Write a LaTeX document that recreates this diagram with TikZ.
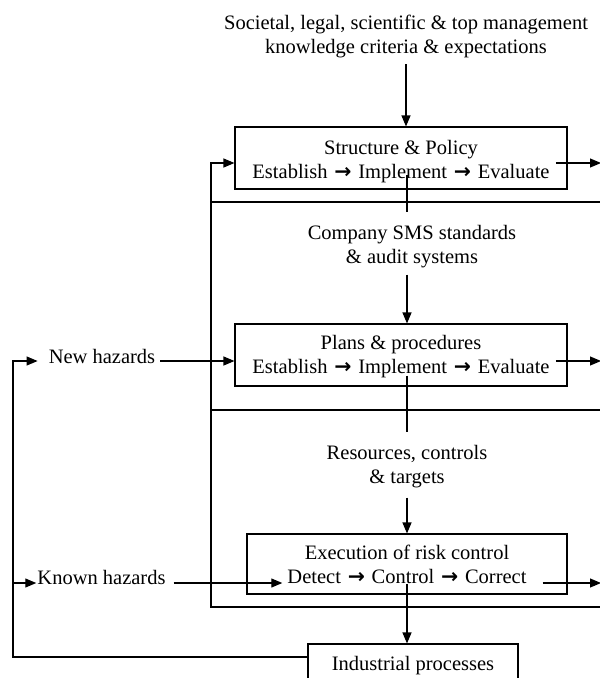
\documentclass[tikz,border=0pt]{standalone}
\usepackage{fontspec}
\setmainfont{Liberation Serif}
\newfontfamily\arrowglyph{DejaVu Sans}
\usetikzlibrary{arrows.meta}
% arrow between the steps of a stage
\newcommand\nextstep{\hspace{0.33em}{\arrowglyph\bfseries →}\hspace{0.33em}}

\begin{document}
\begin{tikzpicture}[x=1pt,y=-1pt,
  ln/.style={line width=1.1pt},
  arr/.style={ln,-{Triangle[length=11pt,width=9pt]}},
  label text/.style={font=\fontsize{20.5}{24}\selectfont,inner sep=0pt,align=center},
  stage/.style={draw,line width=1.1pt,inner sep=0pt,minimum height=62pt}]

\useasboundingbox (0,0) rectangle (600,678);
\clip (0,0) rectangle (600,678);

% stage boxes
\node[stage,minimum width=332pt] (b1) at (401,158) {};
\node[stage,minimum width=332pt] (b2) at (401,355) {};
\node[stage,minimum width=320pt,minimum height=60pt] (b3) at (407,564) {};
\node[stage,label text,minimum width=210pt,minimum height=44pt] (ip) at (413,666) {Industrial processes};

% texts
\node[label text] (n0) at (406,36.7) {Societal, legal, scientific \& top management\\knowledge criteria \& expectations};
\node[label text] (t1) at (401,162) {Structure \& Policy\\Establish\nextstep Implement\nextstep Evaluate};
\node[label text] (n1) at (412,247) {Company SMS standards\\\& audit systems};
\node[label text] (t2) at (401,357) {Plans \& procedures\\Establish\nextstep Implement\nextstep Evaluate};
\node[label text] (n2) at (407,467) {Resources, controls\\\& targets};
\node[label text] (t3) at (407,564) {Execution of risk control\\Detect\nextstep Control\nextstep Correct};
\node[label text] (nh) at (102,356) {New hazards};
\node[label text] (kh) at (101.5,577) {Known hazards};

% reference lines
\coordinate (spine) at (407,0);
\coordinate (right) at (601,0);
\coordinate (frameL) at (211,0);
\coordinate (loopL) at (13,0);
\coordinate (r1) at (0,163);
\coordinate (r2) at (0,361);
\coordinate (r3) at (0,583);
\coordinate (h1) at (0,202);
\coordinate (h2) at (0,410);
\coordinate (h3) at (0,607);
\coordinate (hbot) at (0,657);

% frame around the lower levels
\draw[ln] (frameL |- h1) -- ([xshift=6pt]right |- h1);
\draw[ln] (frameL |- h2) -- ([xshift=6pt]right |- h2);
\draw[arr] ([xshift=6pt]right |- h3) -- (frameL |- h3) -- (frameL |- r1) -- (b1.west |- r1);

% main vertical flow
\draw[arr,shorten <=6pt] (n0.south) -- (n0.south |- b1.north);
\draw[ln] ([yshift=8pt]t1.south -| spine) -- ([yshift=13pt]n1.north -| spine);
\draw[arr,shorten <=6pt] (n1.south -| spine) -- (spine |- b2.north);
\draw[ln] ([yshift=3pt]t2.south -| spine) -- ([yshift=13pt]n2.north -| spine);
\draw[arr,shorten <=9pt] (n2.south -| spine) -- (spine |- b3.north);
\draw[arr] (t3.south -| spine) -- (spine |- ip.north);

% outputs to the right
\draw[arr] ([xshift=6pt]t1.east |- r1) -- (right |- r1);
\draw[arr] ([xshift=6pt]t2.east |- r2) -- (right |- r2);
\draw[arr] ([xshift=16pt]t3.east |- r3) -- (right |- r3);

% hazard feedback loop
\draw[arr] (ip.west |- hbot) -- (loopL |- hbot) -- (loopL |- r2) -- ([xshift=-11pt]nh.west |- r2);
\draw[arr] (loopL |- r3) -- ([xshift=-1pt]kh.west |- r3);
\draw[arr] ([xshift=5pt]nh.east |- r2) -- (b2.west |- r2);
\draw[arr] ([xshift=8pt]kh.east |- r3) -- ([xshift=-5pt]t3.west |- r3);

\end{tikzpicture}
\end{document}
